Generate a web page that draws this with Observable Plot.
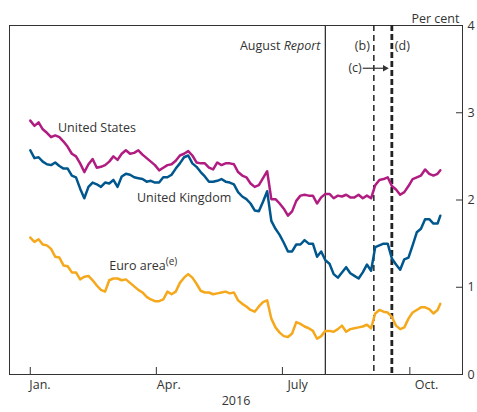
<!DOCTYPE html>
<html><head><meta charset="utf-8">
<script src="https://cdn.jsdelivr.net/npm/d3@7"></script>
<script src="https://cdn.jsdelivr.net/npm/@observablehq/plot@0.6"></script>
<style>body{margin:0;background:#fff} svg{display:block}</style>
</head><body><div id="chart"></div>
<script>
const dates = ["2016-01-01","2016-01-04","2016-01-07","2016-01-10","2016-01-13","2016-01-16","2016-01-19","2016-01-22","2016-01-25","2016-01-28","2016-01-31",
"2016-02-03","2016-02-06","2016-02-09","2016-02-12","2016-02-15","2016-02-18","2016-02-21","2016-02-24","2016-02-27",
"2016-03-01","2016-03-04","2016-03-07","2016-03-10","2016-03-13","2016-03-16","2016-03-19","2016-03-22","2016-03-25","2016-03-28","2016-03-31",
"2016-04-03","2016-04-06","2016-04-09","2016-04-12","2016-04-15","2016-04-18","2016-04-21","2016-04-24","2016-04-27","2016-04-30",
"2016-05-03","2016-05-06","2016-05-09","2016-05-12","2016-05-15","2016-05-18","2016-05-21","2016-05-24","2016-05-27","2016-05-30",
"2016-06-02","2016-06-05","2016-06-08","2016-06-11","2016-06-14","2016-06-17","2016-06-20","2016-06-23","2016-06-26","2016-06-29",
"2016-07-02","2016-07-05","2016-07-08","2016-07-11","2016-07-14","2016-07-17","2016-07-20","2016-07-23","2016-07-26","2016-07-29",
"2016-08-01","2016-08-04","2016-08-07","2016-08-10","2016-08-13","2016-08-16","2016-08-19","2016-08-22","2016-08-25","2016-08-28","2016-08-31",
"2016-09-03","2016-09-06","2016-09-09","2016-09-12","2016-09-15","2016-09-18","2016-09-21","2016-09-24","2016-09-27","2016-09-30",
"2016-10-03","2016-10-06","2016-10-09","2016-10-12","2016-10-15","2016-10-18","2016-10-21","2016-10-23"];

const unitedStates = [2.91,2.85,2.89,2.81,2.77,2.72,2.74,2.72,2.67,2.61,2.53,
2.50,2.42,2.32,2.41,2.47,2.37,2.38,2.40,2.44,
2.50,2.46,2.53,2.57,2.53,2.54,2.57,2.52,2.48,2.44,2.40,
2.34,2.37,2.40,2.41,2.45,2.51,2.53,2.56,2.51,2.43,
2.42,2.42,2.37,2.35,2.43,2.40,2.42,2.42,2.41,2.32,
2.28,2.26,2.19,2.15,2.17,2.25,2.33,2.01,2.01,1.96,
1.90,1.82,1.87,1.99,2.05,2.06,2.05,2.05,1.96,2.03,
2.07,2.07,2.02,2.05,2.04,2.06,2.03,2.03,2.06,2.02,2.05,
2.02,2.17,2.23,2.24,2.26,2.16,2.12,2.06,2.09,2.16,
2.24,2.26,2.28,2.35,2.30,2.28,2.30,2.34];

const unitedKingdom = [2.57,2.48,2.49,2.44,2.41,2.40,2.43,2.39,2.36,2.36,2.28,
2.26,2.13,2.02,2.15,2.20,2.18,2.15,2.20,2.19,
2.23,2.15,2.27,2.30,2.29,2.26,2.25,2.24,2.21,2.22,2.20,
2.20,2.26,2.26,2.29,2.36,2.42,2.49,2.51,2.42,2.38,
2.32,2.27,2.21,2.21,2.22,2.24,2.21,2.20,2.18,2.09,
2.04,2.01,1.96,1.88,1.87,1.98,2.10,1.76,1.67,1.60,
1.51,1.41,1.41,1.49,1.49,1.54,1.50,1.50,1.35,1.41,
1.31,1.27,1.15,1.11,1.17,1.23,1.16,1.13,1.10,1.17,1.26,
1.19,1.46,1.48,1.50,1.50,1.33,1.26,1.20,1.32,1.34,
1.48,1.63,1.67,1.78,1.78,1.73,1.73,1.82];

const euroArea = [1.57,1.52,1.55,1.49,1.48,1.44,1.35,1.34,1.25,1.24,1.17,
1.17,1.09,1.12,1.13,1.08,1.02,0.97,0.95,1.08,
1.10,1.10,1.08,1.09,1.05,1.01,0.97,0.94,0.89,0.86,0.84,
0.84,0.86,0.95,0.92,0.95,1.05,1.11,1.15,1.11,1.04,
0.96,0.94,0.94,0.92,0.93,0.94,0.95,0.93,0.94,0.85,
0.81,0.78,0.74,0.72,0.78,0.83,0.85,0.64,0.54,0.48,
0.44,0.43,0.47,0.60,0.58,0.55,0.53,0.50,0.41,0.44,
0.50,0.50,0.49,0.52,0.56,0.49,0.52,0.53,0.54,0.55,0.57,
0.53,0.70,0.74,0.72,0.71,0.66,0.56,0.52,0.54,0.64,
0.71,0.74,0.77,0.77,0.75,0.70,0.74,0.81];

const seriesNames = ["United States", "United Kingdom", "Euro area"];
const seriesColors = ["#b01c80", "#00578d", "#f6a81c"];
const yTicks = [0, 1, 2, 3, 4];
const xTickDates = ["2016-01-01", "2016-04-01", "2016-07-01", "2016-10-01"];
const xTickLabels = ["Jan.", "Apr.", "July", "Oct."];
const xLabelDates = ["2016-01-08", "2016-04-10", "2016-07-12", "2016-10-13"];
const reportDate = "2016-08-01";
const dateB = "2016-09-05";
const dateD = "2016-09-18";
const arrowStart = "2016-08-28";
const arrowEnd = "2016-09-13";

// annotation placement (data coordinates)
const seriesLabelText = ["United States", "United Kingdom", "Euro area(e)"];
const seriesLabelDates = ["2016-01-21", "2016-03-18", "2016-02-27"];
const seriesLabelValues = [2.83, 2.02, 1.24];

const parse = d3.utcParse("%Y-%m-%d");
const seriesValues = [unitedStates, unitedKingdom, euroArea];
const rows = [];
seriesNames.forEach((name, s) => {
  dates.forEach((d, i) => rows.push({date: parse(d), series: name, value: seriesValues[s][i]}));
});

const ink = "#333";
const chart = Plot.plot({
  width: 477, height: 412,
  marginLeft: 9, marginRight: 15, marginTop: 25, marginBottom: 38,
  style: {fontFamily: "'Open Sans', sans-serif", fontSize: "12.5px", color: ink, background: "#fff"},
  x: {type: "utc", domain: [parse("2015-12-17"), parse("2016-11-08")]},
  y: {domain: [0, 4]},
  color: {domain: seriesNames, range: seriesColors},
  marks: [
    Plot.frame({stroke: ink, strokeWidth: 1}),
    Plot.axisY(yTicks, {anchor: "right", tickSize: -7, tickPadding: 12, label: null, stroke: ink, fill: ink, tickFormat: d => String(d)}),
    Plot.axisX(xTickDates.map(parse), {anchor: "bottom", tickSize: -7, label: null, stroke: ink, tickFormat: () => ""}),
    Plot.text(xTickLabels, {x: (d, i) => parse(xLabelDates[i]), frameAnchor: "bottom", dy: 14, fill: ink}),
    Plot.text(["2016"], {frameAnchor: "bottom", dy: 30, fill: ink}),
    Plot.text(["Per cent"], {frameAnchor: "top-right", textAnchor: "end", dx: -3, dy: -11, fill: ink}),
    Plot.ruleX([parse(reportDate)], {stroke: ink, strokeWidth: 1.3}),
    Plot.ruleX([parse(dateB)], {stroke: "#222", strokeWidth: 1.5, strokeDasharray: "6,4"}),
    Plot.ruleX([parse(dateD)], {stroke: "#222", strokeWidth: 2.8, strokeDasharray: "6,3"}),
    Plot.line(rows, {x: "date", y: "value", z: "series", stroke: "series", strokeWidth: 2.5, strokeLinejoin: "round", strokeLinecap: "round"}),
    Plot.text(seriesLabelText, {x: (d, i) => parse(seriesLabelDates[i]), y: (d, i) => seriesLabelValues[i], textAnchor: "start", fill: ink}),
    Plot.text(["August Report"], {x: () => parse(reportDate), y: 3.77, textAnchor: "end", dx: -5, fill: ink}),
    Plot.text(["(b)"], {x: () => parse(dateB), y: 3.77, textAnchor: "end", dx: -4, fill: ink}),
    Plot.text(["(d)"], {x: () => parse(dateD), y: 3.77, textAnchor: "start", dx: 3, fill: ink}),
    Plot.text(["(c)"], {x: () => parse(arrowStart), y: 3.51, textAnchor: "end", dx: -1, fill: ink}),
    Plot.link([0], {x1: () => parse(arrowStart), x2: () => parse(arrowEnd), y1: 3.51, y2: 3.51, stroke: ink, strokeWidth: 1.2}),
    Plot.dot([0], {x: () => parse(arrowEnd), y: 3.51, symbol: "triangle2", rotate: 90, r: 3.2, fill: ink, stroke: "none"})
  ]
});

const ns = "http://www.w3.org/2000/svg";
chart.querySelectorAll("text").forEach(t => {
  if (t.textContent === "August Report") {
    t.textContent = "August ";
    const ts = document.createElementNS(ns, "tspan");
    ts.setAttribute("font-style", "italic");
    ts.textContent = "Report";
    t.appendChild(ts);
  } else if (t.textContent === "Euro area(e)") {
    t.textContent = "Euro area";
    const ts = document.createElementNS(ns, "tspan");
    ts.setAttribute("font-size", "10px");
    ts.setAttribute("dy", "-5");
    ts.textContent = "(e)";
    t.appendChild(ts);
  }
});
document.getElementById("chart").appendChild(chart);
</script>
</body></html>
